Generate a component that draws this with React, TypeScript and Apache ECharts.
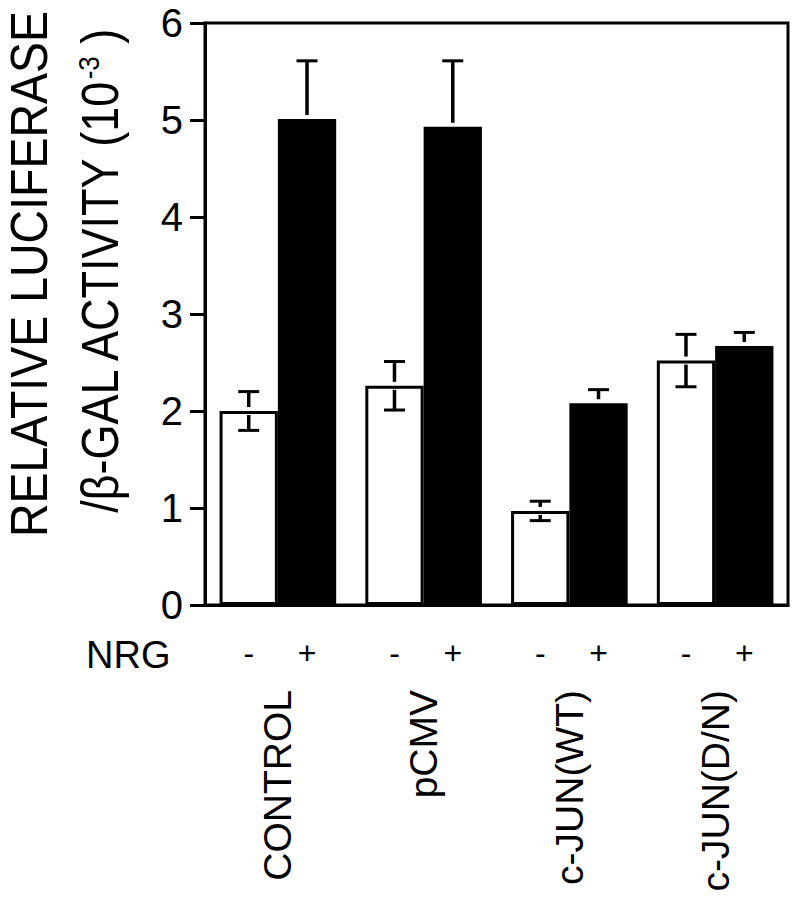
import React, { useEffect, useRef } from "react";
import * as echarts from "echarts";

const categories = ["CONTROL", "pCMV", "c-JUN(WT)", "c-JUN(D/N)"];
const withoutNrg = [2.0, 2.26, 0.97, 2.52];
const withoutNrgErr = [0.2, 0.25, 0.1, 0.27];
const withNrg = [5.01, 4.93, 2.08, 2.67];
const withNrgErr = [0.6, 0.68, 0.14, 0.14];
const yTicks = [0, 1, 2, 3, 4, 5, 6];
const nrgMarks = ["-", "+"];

const FONT = "'Liberation Sans', Arial, Helvetica, sans-serif";

function errorSeries(values: number[], errs: number[], side: number, name: string) {
  return {
    type: "custom",
    name,
    z: 10,
    silent: true,
    data: values.map((v, i) => [i, v, errs[i]]),
    encode: { x: 0, y: 1 },
    renderItem: (params: any, api: any) => {
      const idx = api.value(0);
      const mean = api.value(1);
      const err = api.value(2);
      const catW = api.size([1, 0])[0];
      const c = api.coord([idx, mean]);
      const x = c[0] + side * 0.2 * catW;
      const yMean = c[1];
      const yHi = api.coord([idx, mean + err])[1];
      const yLo = api.coord([idx, mean - err])[1];
      const hw = 10.5;
      const st = { stroke: "#000", lineWidth: 3.5 };
      return {
        type: "group",
        children: [
          { type: "line", shape: { x1: x, y1: yMean - 4, x2: x, y2: yHi }, style: st },
          { type: "line", shape: { x1: x - hw, y1: yHi, x2: x + hw, y2: yHi }, style: { stroke: "#000", lineWidth: 3 } },
          { type: "line", shape: { x1: x, y1: yMean + 4, x2: x, y2: yLo }, style: st },
          { type: "line", shape: { x1: x - hw, y1: yLo, x2: x + hw, y2: yLo }, style: { stroke: "#000", lineWidth: 3 } },
        ],
      };
    },
  };
}

export default function App() {
  const ref = useRef<HTMLDivElement>(null);
  useEffect(() => {
    if (!ref.current) return;
    const chart = echarts.init(ref.current, null, { renderer: "svg" });
    const option: any = {
      animation: false,
      backgroundColor: "#fff",
      textStyle: { fontFamily: FONT, color: "#000" },
      grid: {
        left: 205,
        right: 11,
        top: 23,
        bottom: 295,
        show: true,
        borderColor: "#000",
        borderWidth: 3,
        backgroundColor: "transparent",
        containLabel: false,
      },
      xAxis: {
        type: "category",
        data: categories,
        axisLine: { show: true, lineStyle: { color: "#000", width: 3 } },
        axisTick: { show: false },
        axisLabel: {
          rotate: 90,
          margin: 85,
          fontSize: 39,
          color: "#000",
          fontFamily: FONT,
        },
        splitLine: { show: false },
      },
      yAxis: {
        type: "value",
        min: yTicks[0],
        max: yTicks[yTicks.length - 1],
        interval: 1,
        axisLine: { show: true, lineStyle: { color: "#000", width: 3 } },
        axisTick: { show: true, length: 15, lineStyle: { color: "#000", width: 3 } },
        axisLabel: { fontSize: 40, color: "#000", margin: 22, fontFamily: FONT },
        splitLine: { show: false },
      },
      graphic: [
        {
          type: "text",
          x: 29.5,
          y: 274,
          rotation: Math.PI / 2,
          scaleY: 1.1,
          style: {
            text: "RELATIVE LUCIFERASE",
            fontSize: 46.5,
            fontFamily: FONT,
            fill: "#000",
            align: "center",
            verticalAlign: "middle",
          },
        },
        {
          type: "text",
          x: 99.5,
          y: 272,
          rotation: Math.PI / 2,
          scaleY: 1.15,
          style: {
            text: "/β-GAL ACTIVITY (10{sup|-3} )",
            fontSize: 45,
            fontFamily: FONT,
            fill: "#000",
            align: "center",
            verticalAlign: "middle",
            rich: {
              sup: { fontSize: 26, fontFamily: FONT, fill: "#000", verticalAlign: "top", lineHeight: 45 },
            },
          },
        },
        {
          type: "text",
          x: 86,
          y: 655,
          style: {
            text: "NRG",
            fontSize: 38,
            fontFamily: FONT,
            fill: "#000",
            align: "left",
            verticalAlign: "middle",
          },
        },
      ],
      series: [
        {
          type: "bar",
          name: "NRG -",
          data: withoutNrg,
          barGap: "0%",
          barCategoryGap: "20%",
          itemStyle: { color: "#fff", borderColor: "#000", borderWidth: 3 },
          label: {
            show: true,
            position: "bottom",
            distance: 48,
            verticalAlign: "middle",
            formatter: nrgMarks[0],
            fontSize: 32,
            color: "#000",
            fontFamily: FONT,
          },
        },
        {
          type: "bar",
          name: "NRG +",
          data: withNrg,
          barGap: "0%",
          barCategoryGap: "20%",
          itemStyle: { color: "#000", borderWidth: 0 },
          label: {
            show: true,
            position: "bottom",
            distance: 48,
            verticalAlign: "middle",
            formatter: nrgMarks[1],
            fontSize: 32,
            color: "#000",
            fontFamily: FONT,
          },
        },
        errorSeries(withoutNrg, withoutNrgErr, -1, "err -"),
        errorSeries(withNrg, withNrgErr, 1, "err +"),
      ],
    };
    chart.setOption(option);
    return () => chart.dispose();
  }, []);
  return (
    <div
      ref={ref}
      style={{ position: "absolute", left: 0, top: 0, width: 799, height: 900 }}
    />
  );
}
